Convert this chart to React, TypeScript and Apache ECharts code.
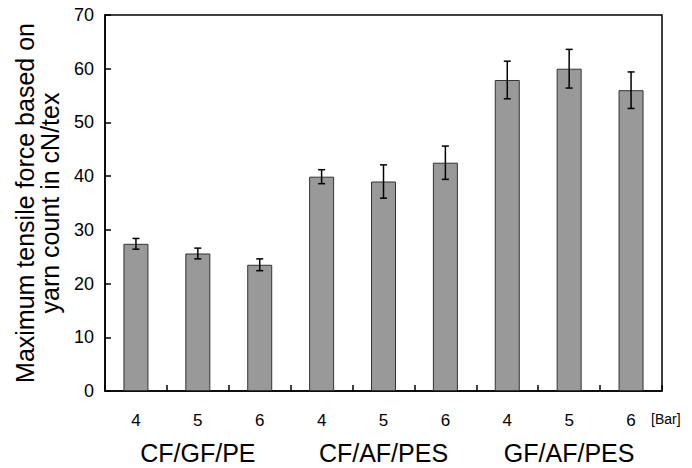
import React, { useEffect, useRef } from "react";
import * as echarts from "echarts";

const pressures = ["4", "5", "6", "4", "5", "6", "4", "5", "6"];
const groups = ["CF/GF/PE", "CF/AF/PES", "GF/AF/PES"];
const means = [27.4, 25.6, 23.5, 39.9, 39.0, 42.5, 57.9, 60.0, 56.0];
const errors = [1.0, 1.0, 1.1, 1.3, 3.1, 3.1, 3.5, 3.6, 3.4];
const yTicks = { min: 0, max: 70, interval: 10 };

export default function App() {
  const ref = useRef<HTMLDivElement>(null);
  useEffect(() => {
    if (!ref.current) return;
    const chart = echarts.init(ref.current, undefined, { renderer: "svg" });
    const font = "Liberation Sans, Arial, sans-serif";
    const errData = means.map((m, i) => [i, m - errors[i], m + errors[i]]);
    chart.setOption({
      animation: false,
      grid: {
        left: 105,
        right: 30,
        top: 15,
        bottom: 77,
        show: true,
        borderColor: "#000",
        borderWidth: 1.5,
        backgroundColor: "transparent",
        outerBoundsMode: "none",
        containLabel: false,
      },
      xAxis: [
        {
          type: "category",
          data: pressures,
          boundaryGap: true,
          axisLine: { show: true, lineStyle: { color: "#000", width: 1.5 } },
          axisTick: { show: true, inside: true, length: 6, lineStyle: { color: "#000", width: 1.5 } },
          axisLabel: { color: "#000", fontSize: 17, fontFamily: font, margin: 21 },
          splitLine: { show: false },
        },
        {
          type: "category",
          data: groups,
          position: "bottom",
          boundaryGap: true,
          axisLine: { show: false },
          axisTick: { show: false },
          axisLabel: { color: "#000", fontSize: 25, fontFamily: font, margin: 49 },
          splitLine: { show: false },
        },
      ],
      yAxis: {
        type: "value",
        min: yTicks.min,
        max: yTicks.max,
        interval: yTicks.interval,
        name: "Maximum tensile force based on\nyarn count in cN/tex",
        nameLocation: "middle",
        nameGap: 43,
        nameRotate: 90,
        nameTextStyle: { color: "#000", fontSize: 25, fontFamily: font, lineHeight: 25 },
        axisLine: { show: true, lineStyle: { color: "#000", width: 1.5 } },
        axisTick: { show: true, inside: true, length: 6, lineStyle: { color: "#000", width: 1.5 } },
        axisLabel: { color: "#000", fontSize: 18, fontFamily: font, margin: 11 },
        splitLine: { show: false },
      },
      graphic: [
        {
          type: "text",
          left: 651,
          top: 412,
          style: { text: "[Bar]", fill: "#000", fontSize: 14, fontFamily: font },
        },
      ],
      series: [
        {
          type: "bar",
          data: means,
          barWidth: 25,
          itemStyle: { color: "#999999", borderColor: "#333", borderWidth: 1 },
          xAxisIndex: 0,
        },
        {
          type: "custom",
          xAxisIndex: 0,
          data: errData,
          z: 10,
          renderItem: (params: any, api: any) => {
            const x = api.value(0);
            const lo = api.coord([x, api.value(1)]);
            const hi = api.coord([x, api.value(2)]);
            const hw = 3.5;
            const style = { stroke: "#000", lineWidth: 1.5 };
            return {
              type: "group",
              children: [
                { type: "line", shape: { x1: lo[0], y1: lo[1], x2: hi[0], y2: hi[1] }, style },
                { type: "line", shape: { x1: lo[0] - hw, y1: lo[1], x2: lo[0] + hw, y2: lo[1] }, style },
                { type: "line", shape: { x1: hi[0] - hw, y1: hi[1], x2: hi[0] + hw, y2: hi[1] }, style },
              ],
            };
          },
        },
      ],
    });
    return () => chart.dispose();
  }, []);
  return <div ref={ref} style={{ width: 692, height: 468, position: "absolute", left: 0, top: 0, background: "#fff" }} />;
}
